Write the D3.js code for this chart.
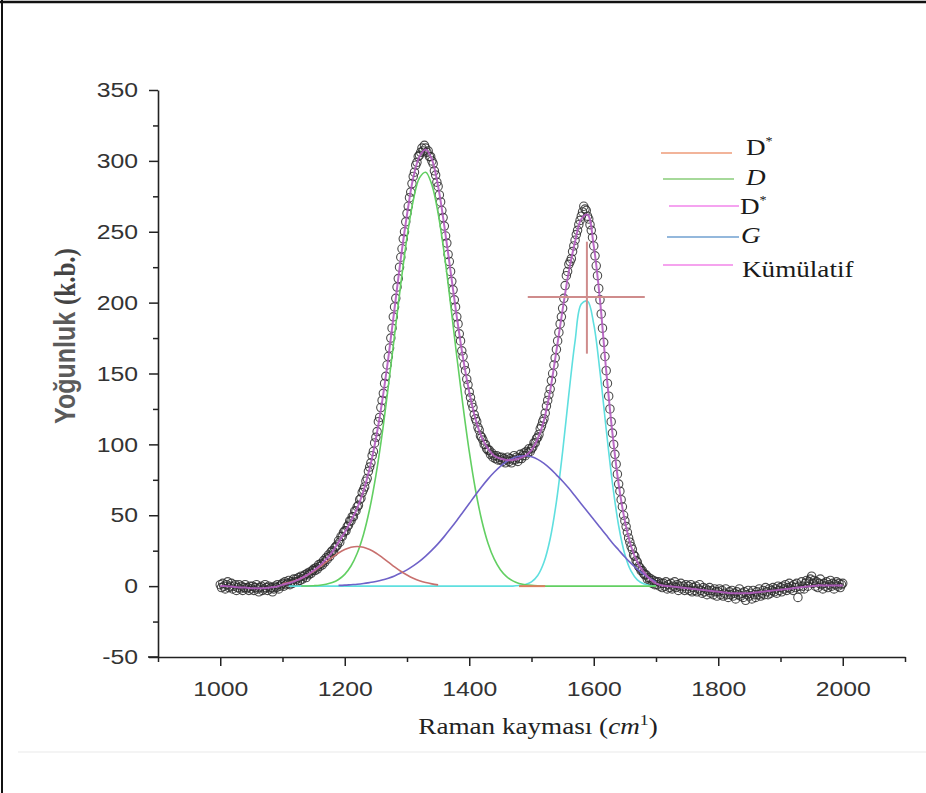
<!DOCTYPE html>
<html>
<head>
<meta charset="utf-8">
<script src="https://cdn.jsdelivr.net/npm/d3@7"></script>
<style>
  body { margin: 0; background: #fff; }
  svg { display: block; }
</style>
</head>
<body>
<div id="chart"></div>
<script>
"use strict";

// Raman spectrum, measured every 2 cm-1 from 1000 to 2000
const shiftStart = 1000, shiftStep = 2;
const intensity = [
  1, -1, 2, 0, -2, 1, 3, -1, 0, 2, -2, 0, 1, -3, -1, 1, -2, 0, -3, -1, 1, -2, -1, -3, 0,            // 1000
  -2, 0, -3, -1, 1, -2, -4, -1, 0, -3, -2, 1, -1, -3, 0, -2, -1, -4, -2, 0, -1, 1, -2, 0, 1,       // 1050
  2, 0, 3, 1, 2, 4, 1, 3, 2, 5, 3, 5, 3, 6, 4, 7, 5, 7, 8, 6, 9, 8, 10, 9, 11,                     // 1100
  12, 11, 13, 12, 15, 14, 16, 15, 18, 17, 20, 19, 22, 21, 24, 25, 24, 27, 28, 29, 32, 31, 35, 35, 38, // 1150
  39, 39, 42, 43, 46, 46, 49, 49, 53, 53, 56, 57, 61, 62, 66, 68, 70, 74, 76, 81, 84, 87, 92, 95, 101, // 1200
  105, 109, 116, 119, 126, 131, 136, 143, 148, 156, 162, 168, 175, 182, 190, 197, 203, 211, 217, 225, 232, 238, 245, 250, 257, // 1250
  263, 268, 274, 278, 284, 289, 292, 297, 299, 303, 304, 306, 309, 307, 311, 309, 306, 307, 303, 303, 300, 298, 293, 290, 285, // 1300
  282, 276, 271, 265, 260, 254, 247, 242, 234, 229, 222, 215, 209, 202, 197, 190, 185, 178, 173, 166, 162, 156, 152, 146, 142, // 1350
  137, 133, 129, 126, 121, 118, 116, 112, 110, 106, 105, 103, 100, 100, 97, 96, 96, 93, 94, 91, 92, 90, 92, 89, 91, // 1400
  89, 91, 88, 90, 87, 89, 91, 88, 90, 87, 89, 92, 89, 91, 88, 90, 93, 90, 92, 94, 92, 95, 94, 97, 95, // 1450
  97, 98, 101, 101, 104, 105, 107, 111, 113, 116, 118, 122, 127, 131, 135, 139, 145, 150, 156, 161, 167, 173, 179, 185, 190, // 1500
  196, 203, 212, 219, 222, 227, 229, 231, 236, 240, 244, 248, 251, 255, 258, 261, 264, 268, 266, 265, 261, 259, 255, 251, 246, // 1550
  240, 233, 226, 219, 210, 202, 192, 182, 172, 162, 152, 143, 134, 125, 116, 108, 100, 93, 86, 79, 72, 67, 61, 56, 50, // 1600
  46, 42, 38, 34, 31, 28, 26, 22, 21, 18, 17, 14, 13, 11, 11, 9, 8, 8, 5, 6, 4, 5, 2, 4, 1,       // 1650
  3, 1, 3, 0, 2, -1, 2, 0, 3, -2, 1, -1, 2, -2, 0, 3, -1, 1, -3, 0, 2, -2, 0, -3, 1,               // 1700
  -2, 0, -3, 1, -4, -1, -3, 0, -4, -2, 1, -3, -5, -1, -4, -2, -6, -3, -1, -5, -3, -6, -2, -4, -7,  // 1750
  -4, -2, -6, -3, -7, -5, -2, -6, -8, -4, -6, -3, -7, -5, -9, -4, -6, -2, -7, -5, -8, -4, -10, -6, -3, // 1800
  -7, -5, -9, -3, -6, -8, -4, -6, -2, -7, -5, -3, -6, -1, -4, -6, -2, -5, -3, -1, -4, -2, -5, 0, -3, // 1850
  -1, -4, 0, -2, 1, -3, -1, 2, -2, 0, -3, 1, -1, 2, -8, 0, -2, 3, 0, -2, 2, 4, 0, 3, 5,            // 1900
  7, 2, 4, 0, 3, -1, 2, 5, 1, -2, 2, 0, 3, -1, 1, 4, 0, 2, -2, 1, 3, 0, 2, -1, 1,                  // 1950
  2                                                                                                // 2000
];

// fitted curves, sampled every 10 cm-1
const fitStep = 10;

const cumulativeStart = 1000;
const cumulative = [
  0, 0, -0.5, -1, -1, -1.5, -1.5, -1.5, -1, -0.5,
  1, 2, 3.5, 5.5, 8, 11, 14.5, 19, 24, 31,
  38, 46, 55, 67, 83, 104, 130, 161, 196, 231,
  262, 288, 303, 308, 301, 282, 254, 222, 190, 161,
  137, 118, 105, 97, 92, 90, 89, 89, 90, 92,
  96, 104, 117, 138, 166, 195, 222, 243, 259, 262,
  240, 202, 152, 108, 72, 46, 28, 17, 10, 5,
  2, 0.5, 0, -0.5, -1, -1.5, -2, -2.5, -3, -3.5,
  -4, -4.5, -5, -5, -5, -5, -4.5, -4, -3.5, -3,
  -2.5, -2, -1.5, -1, -0.5, 0, 0.5, 0.5, 0.5, 0.5,
  0.5
];

const dStarStart = 1100;
const dStar = [1.6, 2.5, 3.8, 5.5, 7.8, 10.5, 13.6, 17.0, 20.3, 23.4, 25.8, 27.4, 28,
  27.4, 25.8, 23.4, 20.3, 17.0, 13.6, 10.5, 7.8, 5.5, 3.8, 2.5, 1.6, 0.9];

const dBandStart = 1130;
const dBand = [0.06, 0.14, 0.3, 0.6, 1.3, 2.5, 4.7, 8.3, 14.2, 23.2, 36.3, 54.4, 78, 107,
  141, 177, 213, 246, 272, 288, 292, 283, 263, 234, 199, 162, 127, 95, 68, 46.5, 30.5,
  19.2, 11.6, 6.7, 3.7, 1.9, 1.0, 0.5, 0.2,
  0, 0, 0, 0, 0, 0, 0, 0, 0, 0, 0, 0, 0, 0, 0, 0, 0, 0, 0];

const d2Start = 1190;
const d2Band = [0.5, 0.7, 1.0, 1.3, 1.8, 2.5, 3.3, 4.3, 5.6, 7.2, 9.2, 11.5, 14.3, 17.5,
  21.2, 25.4, 30, 35.1, 40.6, 46.3, 52.3, 58.3, 64.3, 70.1, 75.5, 80.3, 84.5, 87.9, 90.3,
  91.6, 92, 91.2, 89.4, 86.6, 82.9, 78.5, 74, 69, 63.5, 58, 52.5, 47, 41.5, 36, 30.5, 25.5,
  20.5, 16, 12, 8.5, 5.5, 3];

const gStart = 1110;
const gBand = [0, 0, 0, 0, 0, 0, 0, 0, 0, 0, 0, 0, 0, 0, 0, 0, 0, 0, 0, 0, 0, 0, 0, 0, 0,
  0, 0, 0, 0, 0, 0, 0, 0, 0, 0, 0, 0,
  0.4, 1.1, 3.0, 7.5, 16.8, 33.4, 59.5, 94.9, 135.4, 172.9, 199, 201, 184.8, 151.3,
  110.8, 72.7, 42.6, 22.3, 10.5, 4.4, 1.6, 0.5, 0.15];

const baseSegment = [[1480, 0], [1522, 0]];

// data cursor drawn on the G peak
const cursor = { at: 1589, level: 204, from: 1494, to: 1682, low: 164, high: 243 };

const xMajor = [1000, 1200, 1400, 1600, 1800, 2000];
const xMinor = [900, 1100, 1300, 1500, 1700, 1900, 2100];
const yMajor = [-50, 0, 50, 100, 150, 200, 250, 300, 350];
const yMinor = [-25, 25, 75, 125, 175, 225, 275, 325];

const legendLabels = [
  { text: "D", sup: "*", italic: false },
  { text: "D", sup: "", italic: true },
  { text: "D", sup: "*", italic: false },
  { text: "G", sup: "", italic: true },
  { text: "Kümülatif", sup: "", italic: false }
];
const legendColors = ["#f2b49a", "#a6d99a", "#f5a3f0", "#94b8dc", "#f5a3ee"];

const W = 926, H = 793;
const stretch = "scale(1.18,1)";
const sans = "'Liberation Sans', Arial, sans-serif";
const serif = "'Liberation Serif', 'Times New Roman', serif";

const svg = d3.select("#chart").append("svg")
  .attr("width", W)
  .attr("height", H);

svg.append("rect").attr("width", W).attr("height", H).attr("fill", "#fff");

// page frame and faint rule
svg.append("line").attr("x1", 0).attr("x2", W).attr("y1", 2).attr("y2", 2)
  .attr("stroke", "#111").attr("stroke-width", 2.5);
svg.append("line").attr("x1", 2).attr("x2", 2).attr("y1", 0).attr("y2", H)
  .attr("stroke", "#111").attr("stroke-width", 2);
svg.append("line").attr("x1", 18).attr("x2", W).attr("y1", 752).attr("y2", 752)
  .attr("stroke", "#f0f0f0").attr("stroke-width", 1.5);

const x = d3.scaleLinear().domain([900, 2100]).range([158, 905]);
const y = d3.scaleLinear().domain([-50, 350]).range([657, 90]);

// x axis
const xAxisG = svg.append("g").attr("transform", `translate(0,${y(-50)})`);
xAxisG.call(d3.axisBottom(x).tickValues(xMinor).tickSize(5).tickFormat(""))
  .select(".domain").remove();
xAxisG.append("g")
  .call(d3.axisBottom(x).tickValues(xMajor).tickSize(9).tickSizeOuter(0)
    .tickPadding(15).tickFormat(d => String(d)));
xAxisG.append("line").attr("x1", 148).attr("x2", x(900)).attr("stroke", "#222").attr("stroke-width", 1.6);

// y axis
const yAxisG = svg.append("g").attr("transform", `translate(${x(900)},0)`);
yAxisG.call(d3.axisLeft(y).tickValues(yMinor).tickSize(5).tickFormat(""))
  .select(".domain").remove();
yAxisG.append("g")
  .call(d3.axisLeft(y).tickValues(yMajor).tickSize(9).tickSizeOuter(0)
    .tickPadding(8).tickFormat(d => String(d)));

svg.selectAll(".domain").attr("stroke", "#222").attr("stroke-width", 1.6);
svg.selectAll(".tick line").attr("stroke", "#222").attr("stroke-width", 1.5);
svg.selectAll(".tick text")
  .attr("transform", stretch)
  .attr("font-family", sans)
  .attr("font-size", 21)
  .attr("fill", "#333");

// axis titles
const xTitle = svg.append("text")
  .attr("transform", `translate(538,734) ${stretch}`)
  .attr("text-anchor", "middle")
  .attr("font-family", serif)
  .attr("font-size", 23)
  .attr("fill", "#222");
xTitle.append("tspan").text("Raman kayması (");
xTitle.append("tspan").attr("font-style", "italic").text("cm");
xTitle.append("tspan").attr("font-size", 15).attr("dy", -9).text("1");
xTitle.append("tspan").attr("dy", 9).text(")");

const yTitle = svg.append("text")
  .attr("transform", `translate(75,336) ${stretch} rotate(-90)`)
  .attr("text-anchor", "middle")
  .attr("font-size", 25)
  .attr("font-weight", "bold");
yTitle.append("tspan").attr("font-family", sans).attr("fill", "#5b5b5b").text("Yoğunluk ");
yTitle.append("tspan").attr("font-family", serif).attr("fill", "#444").text("(k.b.)");

// measured points
svg.append("g")
  .selectAll("circle")
  .data(intensity)
  .join("circle")
  .attr("cx", (d, i) => x(shiftStart + i * shiftStep))
  .attr("cy", d => y(d))
  .attr("r", 4.2)
  .attr("fill", "none")
  .attr("stroke", "#2b2b2b")
  .attr("stroke-width", 1.1)
  .attr("stroke-opacity", 0.85);

// fitted peaks
const line = d3.line().x(d => x(d[0])).y(d => y(d[1])).curve(d3.curveCatmullRom);
const toPoints = (start, values) => values.map((v, i) => [start + i * fitStep, v]);

const fits = [
  { start: gStart, values: gBand, color: "#5fdfdf" },
  { start: dBandStart, values: dBand, color: "#62cf62" },
  { start: d2Start, values: d2Band, color: "#6f62c8" },
  { start: dStarStart, values: dStar, color: "#c8706e" }
];
fits.forEach(f => {
  svg.append("path")
    .attr("d", line(toPoints(f.start, f.values)))
    .attr("fill", "none")
    .attr("stroke", f.color)
    .attr("stroke-width", 1.6);
});

svg.append("path")
  .attr("d", line(baseSegment))
  .attr("fill", "none")
  .attr("stroke", "#d9805f")
  .attr("stroke-width", 2);

svg.append("path")
  .attr("d", line(toPoints(cumulativeStart, cumulative)))
  .attr("fill", "none")
  .attr("stroke", "#b45cc0")
  .attr("stroke-width", 2)
  .attr("stroke-opacity", 0.9);

// cursor cross
svg.append("line")
  .attr("x1", x(cursor.from)).attr("x2", x(cursor.to))
  .attr("y1", y(cursor.level)).attr("y2", y(cursor.level))
  .attr("stroke", "#cf8c8c").attr("stroke-width", 2);
svg.append("line")
  .attr("x1", x(cursor.at)).attr("x2", x(cursor.at))
  .attr("y1", y(cursor.low)).attr("y2", y(cursor.high))
  .attr("stroke", "#cf8c8c").attr("stroke-width", 2);

// legend
const legendRows = [
  { ly: 153, x0: 661, x1: 732, tx: 746, ty: 155 },
  { ly: 179, x0: 663, x1: 734, tx: 746, ty: 185 },
  { ly: 206, x0: 669, x1: 739, tx: 740, ty: 214 },
  { ly: 237, x0: 667, x1: 739, tx: 741, ty: 243 },
  { ly: 265, x0: 663, x1: 733, tx: 742, ty: 277 }
];
legendLabels.forEach((item, i) => {
  const r = legendRows[i];
  svg.append("line")
    .attr("x1", r.x0).attr("x2", r.x1).attr("y1", r.ly).attr("y2", r.ly)
    .attr("stroke", legendColors[i]).attr("stroke-width", 2);
  const t = svg.append("text")
    .attr("transform", `translate(${r.tx},${r.ty}) ${stretch}`)
    .attr("font-family", serif)
    .attr("font-size", 23)
    .attr("fill", "#1a1a1a");
  t.append("tspan").attr("font-style", item.italic ? "italic" : "normal").text(item.text);
  if (item.sup) t.append("tspan").attr("font-size", 12).attr("dy", -10).text(item.sup);
});
</script>
</body>
</html>
